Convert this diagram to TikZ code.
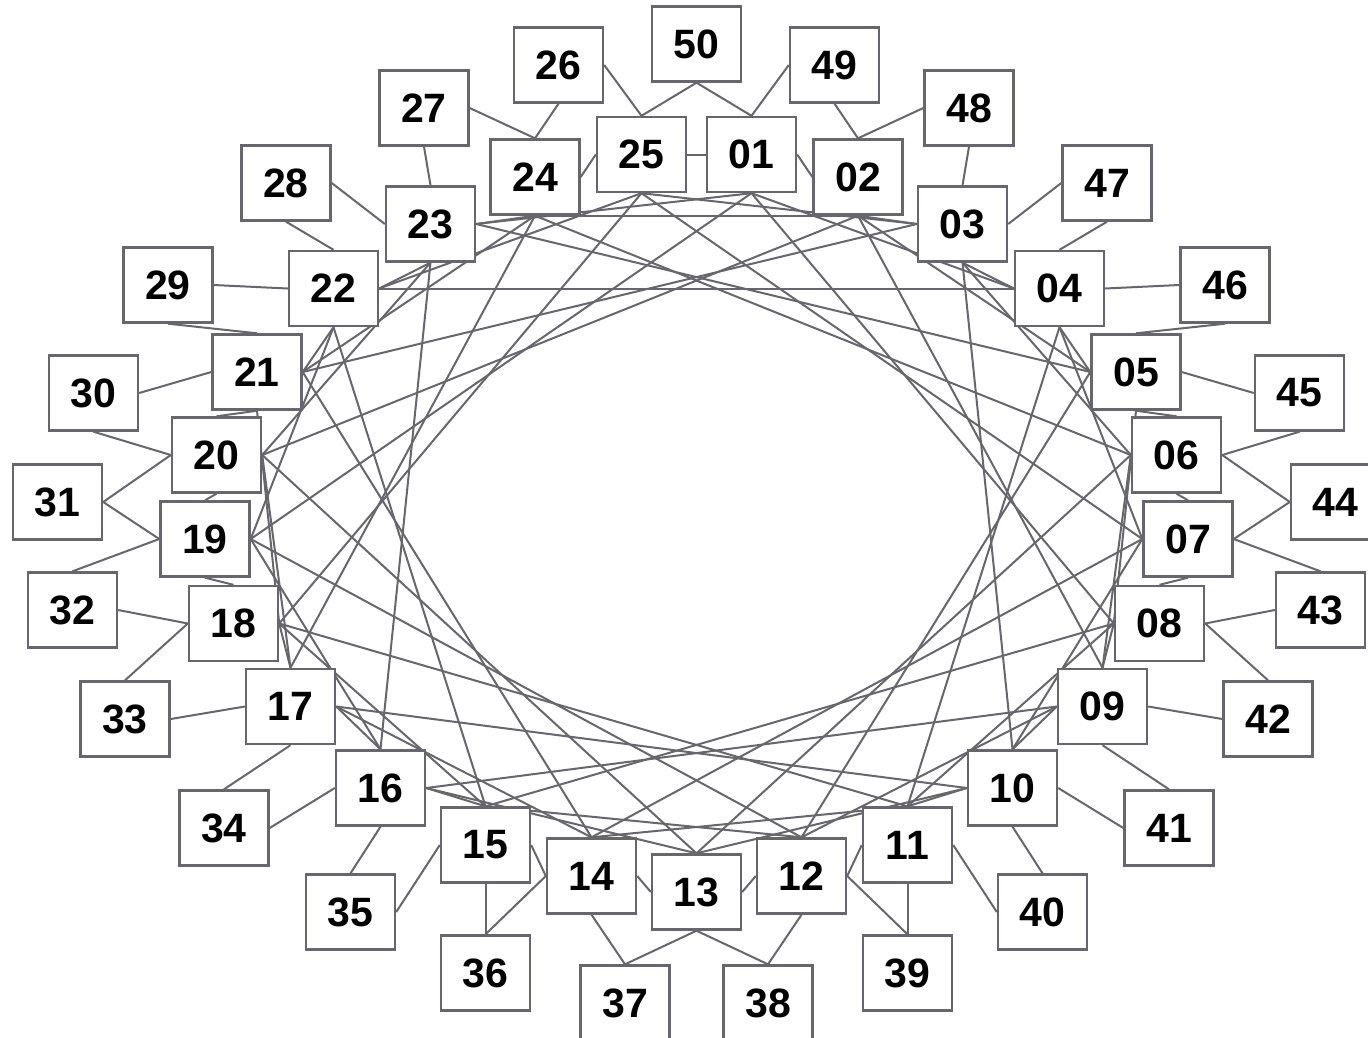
\documentclass[tikz,border=0pt]{standalone}
\usepackage{fontspec}
\setmainfont{Liberation Sans}
\usetikzlibrary{backgrounds}
\definecolor{gr}{RGB}{102,102,108}
\begin{document}
\begin{tikzpicture}[x=1pt,y=-1pt,
  box/.style={draw=gr,line width=2.4pt,fill=white,minimum width=89pt,minimum height=75pt,inner sep=0pt,
    font=\fontsize{41}{41}\selectfont\bfseries},
  edge/.style={draw=gr,line width=2pt}]
\useasboundingbox (0,0) rectangle (1368,1037);
% inner ring
\node[box] (n1) at (751.5,154.5) {01};
\node[box] (n2) at (858,177) {02};
\node[box] (n3) at (962.5,224) {03};
\node[box] (n4) at (1059.5,288.5) {04};
\node[box] (n5) at (1136,372) {05};
\node[box] (n6) at (1176.5,455) {06};
\node[box] (n7) at (1188,539) {07};
\node[box] (n8) at (1159.5,623.5) {08};
\node[box] (n9) at (1102.5,706.5) {09};
\node[box] (n10) at (1012.5,788) {10};
\node[box] (n11) at (907.5,845) {11};
\node[box] (n12) at (801.5,876) {12};
\node[box] (n13) at (696.5,892) {13};
\node[box] (n14) at (591.5,876) {14};
\node[box] (n15) at (485.5,845) {15};
\node[box] (n16) at (380.5,788) {16};
\node[box] (n17) at (290.5,706.5) {17};
\node[box] (n18) at (233.5,623.5) {18};
\node[box] (n19) at (205,539) {19};
\node[box] (n20) at (216.5,455) {20};
\node[box] (n21) at (257,372) {21};
\node[box] (n22) at (333.5,288.5) {22};
\node[box] (n23) at (430.5,224) {23};
\node[box] (n24) at (535,177) {24};
\node[box] (n25) at (641.5,154.5) {25};
% outer ring
\node[box] (n26) at (558.5,65) {26};
\node[box] (n27) at (424,108) {27};
\node[box] (n28) at (286,183) {28};
\node[box] (n29) at (168,285) {29};
\node[box] (n30) at (93.5,393) {30};
\node[box] (n31) at (57.5,502) {31};
\node[box] (n32) at (72.5,610) {32};
\node[box] (n33) at (125,719) {33};
\node[box] (n34) at (224,828) {34};
\node[box] (n35) at (350.5,912) {35};
\node[box] (n36) at (485.5,973) {36};
\node[box] (n37) at (625,1003) {37};
\node[box] (n38) at (768,1003) {38};
\node[box] (n39) at (907.5,973) {39};
\node[box] (n40) at (1042.5,912) {40};
\node[box] (n41) at (1169,828) {41};
\node[box] (n42) at (1268,719) {42};
\node[box] (n43) at (1320.5,610) {43};
\node[box] (n44) at (1335.5,502) {44};
\node[box] (n45) at (1299.5,393) {45};
\node[box] (n46) at (1225,285) {46};
\node[box] (n47) at (1107,183) {47};
\node[box] (n48) at (969,108) {48};
\node[box] (n49) at (834.5,65) {49};
\node[box] (n50) at (696.5,44) {50};
\begin{pgfonlayer}{background}
% outer connections
\draw[edge] (n26.east) -- (n25.north);  \draw[edge] (n26.south) -- (n24.north);
\draw[edge] (n27.east) -- (n24.north);  \draw[edge] (n27.south) -- (n23.north);
\draw[edge] (n28.east) -- (n23.west);   \draw[edge] (n28.south) -- (n22.north);
\draw[edge] (n29.east) -- (n22.west);   \draw[edge] (n29.south) -- (n21.north);
\draw[edge] (n30.east) -- (n21.west);   \draw[edge] (n30.south) -- (n20.west);
\draw[edge] (n31.east) -- (n20.west);   \draw[edge] (n31.east) -- (n19.west);
\draw[edge] (n32.north) -- (n19.west);  \draw[edge] (n32.east) -- (n18.west);
\draw[edge] (n33.north) -- (n18.west);  \draw[edge] (n33.east) -- (n17.west);
\draw[edge] (n34.north) -- (n17.south); \draw[edge] (n34.east) -- (n16.west);
\draw[edge] (n35.north) -- (n16.south); \draw[edge] (n35.east) -- (n15.west);
\draw[edge] (n36.north) -- (n15.south); \draw[edge] (n36.north) -- (n14.west);
\draw[edge] (n37.north) -- (n14.south); \draw[edge] (n37.north) -- (n13.south);
\draw[edge] (n38.north) -- (n13.south); \draw[edge] (n38.north) -- (n12.south);
\draw[edge] (n39.north) -- (n12.east);  \draw[edge] (n39.north) -- (n11.south);
\draw[edge] (n40.west) -- (n11.east);   \draw[edge] (n40.north) -- (n10.south);
\draw[edge] (n41.west) -- (n10.east);   \draw[edge] (n41.north) -- (n9.south);
\draw[edge] (n42.west) -- (n9.east);    \draw[edge] (n42.north) -- (n8.east);
\draw[edge] (n43.west) -- (n8.east);    \draw[edge] (n43.north) -- (n7.east);
\draw[edge] (n44.west) -- (n7.east);    \draw[edge] (n44.west) -- (n6.east);
\draw[edge] (n45.west) -- (n5.east);    \draw[edge] (n45.south) -- (n6.east);
\draw[edge] (n46.west) -- (n4.east);    \draw[edge] (n46.south) -- (n5.north);
\draw[edge] (n47.west) -- (n3.east);    \draw[edge] (n47.south) -- (n4.north);
\draw[edge] (n48.west) -- (n2.north);   \draw[edge] (n48.south) -- (n3.north);
\draw[edge] (n49.west) -- (n1.north);   \draw[edge] (n49.south) -- (n2.north);
\draw[edge] (n50.south) -- (n25.north); \draw[edge] (n50.south) -- (n1.north);
% inner ring neighbours
\draw[edge] (n24.east) -- (n25.west);  \draw[edge] (n25.east) -- (n1.west);
\draw[edge] (n1.east) -- (n2.west);
\draw[edge] (n23.east) -- (n24.south); \draw[edge] (n2.south) -- (n3.west);
\draw[edge] (n22.east) -- (n23.south); \draw[edge] (n3.south) -- (n4.west);
\draw[edge] (n21.east) -- (n22.south); \draw[edge] (n4.south) -- (n5.west);
\draw[edge] (n20.north) -- (n21.south); \draw[edge] (n5.south) -- (n6.north);
\draw[edge] (n19.north) -- (n20.south); \draw[edge] (n6.south) -- (n7.north);
\draw[edge] (n18.north) -- (n19.south); \draw[edge] (n7.south) -- (n8.north);
\draw[edge] (n18.east) -- (n17.north); \draw[edge] (n8.west) -- (n9.north);
\draw[edge] (n17.east) -- (n16.north); \draw[edge] (n9.west) -- (n10.north);
\draw[edge] (n16.east) -- (n15.north); \draw[edge] (n10.west) -- (n11.north);
\draw[edge] (n15.east) -- (n14.west);  \draw[edge] (n11.west) -- (n12.east);
\draw[edge] (n14.east) -- (n13.west);  \draw[edge] (n12.west) -- (n13.east);
% chords, step 3
\draw[edge] (n1.south) -- (n4.west);   \draw[edge] (n2.south) -- (n5.west);
\draw[edge] (n3.south) -- (n6.west);   \draw[edge] (n4.south) -- (n7.west);
\draw[edge] (n5.south) -- (n8.west);   \draw[edge] (n6.west) -- (n9.north);
\draw[edge] (n7.west) -- (n10.north);  \draw[edge] (n8.west) -- (n11.north);
\draw[edge] (n9.west) -- (n12.north);  \draw[edge] (n10.west) -- (n13.north);
\draw[edge] (n11.north) -- (n14.north); \draw[edge] (n12.north) -- (n15.north);
\draw[edge] (n13.north) -- (n16.east); \draw[edge] (n14.north) -- (n17.east);
\draw[edge] (n15.north) -- (n18.east); \draw[edge] (n16.north) -- (n19.east);
\draw[edge] (n17.north) -- (n20.east); \draw[edge] (n18.east) -- (n21.south);
\draw[edge] (n19.east) -- (n22.south); \draw[edge] (n20.east) -- (n23.south);
\draw[edge] (n21.east) -- (n24.south); \draw[edge] (n22.east) -- (n25.south);
\draw[edge] (n23.east) -- (n1.south);  \draw[edge] (n24.south) -- (n2.south);
\draw[edge] (n25.south) -- (n3.west);
% chords, step 7
\draw[edge] (n1.south) -- (n8.west);   \draw[edge] (n2.south) -- (n9.north);
\draw[edge] (n3.south) -- (n10.north); \draw[edge] (n4.south) -- (n11.north);
\draw[edge] (n5.west) -- (n12.north);  \draw[edge] (n6.west) -- (n13.north);
\draw[edge] (n7.west) -- (n14.north);  \draw[edge] (n8.west) -- (n15.north);
\draw[edge] (n9.west) -- (n16.east);   \draw[edge] (n10.west) -- (n17.east);
\draw[edge] (n11.north) -- (n18.east); \draw[edge] (n12.north) -- (n19.east);
\draw[edge] (n13.north) -- (n20.east); \draw[edge] (n14.north) -- (n21.east);
\draw[edge] (n15.north) -- (n22.south); \draw[edge] (n16.north) -- (n23.south);
\draw[edge] (n17.north) -- (n24.south); \draw[edge] (n18.east) -- (n25.south);
\draw[edge] (n19.east) -- (n1.south);  \draw[edge] (n20.east) -- (n2.south);
\draw[edge] (n21.east) -- (n3.west);   \draw[edge] (n22.east) -- (n4.west);
\draw[edge] (n23.east) -- (n5.west);   \draw[edge] (n24.south) -- (n6.west);
\draw[edge] (n25.south) -- (n7.west);
\end{pgfonlayer}
\end{tikzpicture}
\end{document}
